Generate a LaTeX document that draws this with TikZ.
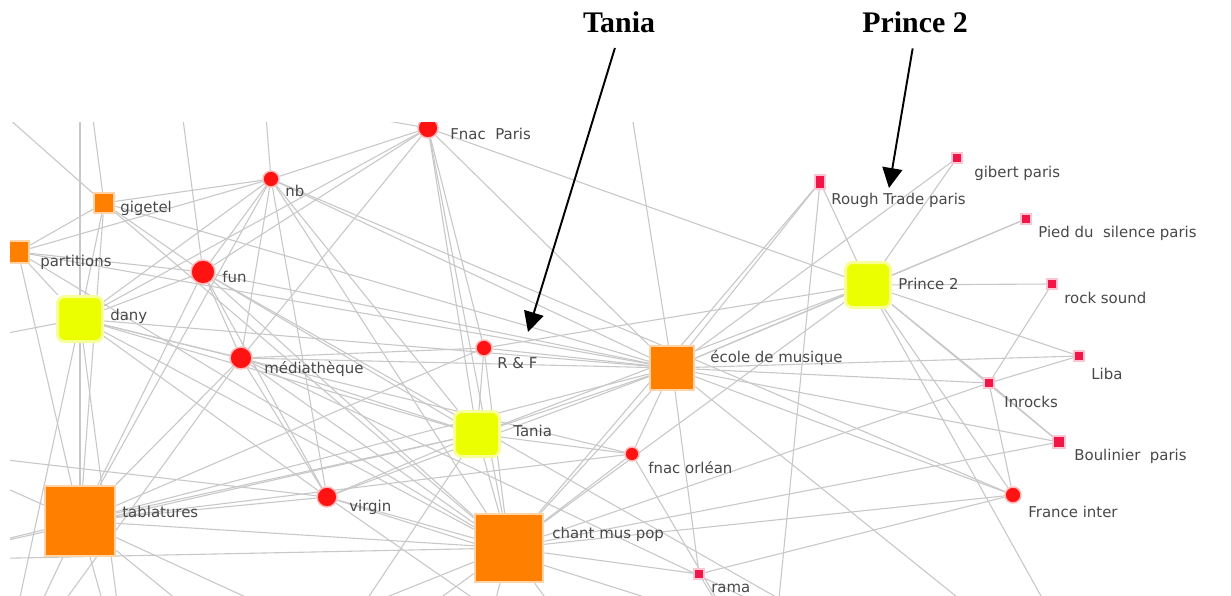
\documentclass[tikz,border=0pt]{standalone}
\usepackage{fontspec}
\setmainfont{Liberation Serif}
\newfontfamily\netfont{DejaVu Sans}
\usetikzlibrary{arrows.meta}
\usepackage{xcolor}
\definecolor{netorange}{RGB}{255,128,0}
\definecolor{netyellow}{RGB}{236,255,0}
\definecolor{netred}{RGB}{255,18,18}
\definecolor{netpink}{RGB}{240,22,72}
\definecolor{netgray}{RGB}{200,200,200}
\definecolor{nettext}{RGB}{72,72,72}
\pgfdeclarelayer{edges}
\pgfsetlayers{edges,main}

\begin{document}
\begin{tikzpicture}[x=0.2mm,y=-0.2mm]
  \tikzstyle{hubsq}=[rectangle, fill=netorange, draw=netorange!35, line width=0.5mm, inner sep=0pt];
  \tikzstyle{fansq}=[rectangle, rounded corners=1.4mm, fill=netyellow, draw=netyellow!40, line width=0.6mm, inner sep=0pt, minimum size=9mm];
  \tikzstyle{mediacirc}=[circle, fill=netred, draw=netred!30, line width=0.3mm, inner sep=0pt];
  \tikzstyle{shopsq}=[rectangle, fill=netpink, draw=netpink!25, line width=0.3mm, inner sep=0pt, minimum size=2mm];
  \tikzstyle{netlabel}=[anchor=west, inner sep=0pt, text=nettext, font=\netfont\fontsize{8.5}{9}\selectfont];
  \tikzstyle{netedge}=[draw=netgray, line width=0.22mm];
  \tikzstyle{notetext}=[inner sep=1pt, font=\fontsize{17}{19}\selectfont\bfseries];
  \tikzstyle{notearrow}=[line width=1.1pt, -{Triangle[length=4mm,width=4mm]}, shorten <=2.8mm];
  %
  \useasboundingbox (0,0) rectangle (1231,595);
  %
  % annotations
  \node[notetext] (tanianote) at (619,22) {Tania};
  \node[notetext] (princenote) at (915,22) {Prince 2};
  %
  \begin{scope}
    \clip (10,122) rectangle (1231,595);
    %
    % orange hubs
    \node[hubsq, minimum size=13.6mm] (chant) at (509,548) {};
    \node[hubsq, minimum size=14mm] (tabla) at (80,521) {};
    \node[hubsq, minimum size=8.8mm] (ecole) at (672,368) {};
    \node[hubsq, minimum size=4mm] (gigetel) at (104,203) {};
    \node[hubsq, minimum size=4.4mm] (partitions) at (18,252) {};
    %
    % yellow fans
    \node[fansq] (dany) at (80,319) {};
    \node[fansq] (tania) at (477,434) {};
    \node[fansq] (prince) at (868,285) {};
    %
    % red media
    \node[mediacirc, minimum size=4mm] (fnacparis) at (428,128) {};
    \node[mediacirc, minimum size=3.2mm] (nb) at (271,179) {};
    \node[mediacirc, minimum size=4.8mm] (fun) at (203,272) {};
    \node[mediacirc, minimum size=4.4mm] (media) at (241,358) {};
    \node[mediacirc, minimum size=3.2mm] (rf) at (484,348) {};
    \node[mediacirc, minimum size=2.8mm] (fnacorl) at (632,454) {};
    \node[mediacirc, minimum size=4mm] (virgin) at (327,497) {};
    \node[mediacirc, minimum size=3.2mm] (finter) at (1013,495) {};
    %
    % pink shops
    \node[shopsq] (rama) at (699,574) {};
    \node[shopsq, minimum height=2.8mm] (rough) at (820,182) {};
    \node[shopsq] (gibert) at (957,158) {};
    \node[shopsq] (pied) at (1026,219) {};
    \node[shopsq] (rock) at (1052,284) {};
    \node[shopsq] (liba) at (1079,356) {};
    \node[shopsq] (inrocks) at (989,383) {};
    \node[shopsq, minimum size=2.4mm] (boul) at (1059,442) {};
    %
    % labels
    \node[netlabel] (fnacparisl) at (450,134) {Fnac\ \ Paris};
    \node[netlabel] (nbl) at (285,191) {nb};
    \node[netlabel] (gigetell) at (120,208) {gigetel};
    \node[netlabel] (partitionsl) at (40,262) {partitions};
    \node[netlabel] (funl) at (222,277) {fun};
    \node[netlabel] (danyl) at (110,316) {dany};
    \node[netlabel] (medial) at (264,369) {médiathèque};
    \node[netlabel] (rfl) at (497,363) {R \& F};
    \node[netlabel] (ecolel) at (710,358) {école\ de\ musique};
    \node[netlabel] (tanial) at (513,431) {Tania};
    \node[netlabel] (fnacorll) at (648,468) {fnac\ orléan};
    \node[netlabel] (tablal) at (122,512) {tablatures};
    \node[netlabel] (virginl) at (349,507) {virgin};
    \node[netlabel] (chantl) at (552,534) {chant\ mus\ pop};
    \node[netlabel] (ramal) at (711,588) {rama};
    \node[netlabel] (roughl) at (831,200) {Rough\ Trade\ paris};
    \node[netlabel] (gibertl) at (974,173) {gibert\ paris};
    \node[netlabel] (piedl) at (1038,233) {Pied\ du\ \ silence\ paris};
    \node[netlabel] (princel) at (898,284) {Prince\ 2};
    \node[netlabel] (rockl) at (1064,298) {rock\ sound};
    \node[netlabel] (libal) at (1091,374) {Liba};
    \node[netlabel] (inrocksl) at (1004,402) {Inrocks};
    \node[netlabel] (boull) at (1074,456) {Boulinier\ \ paris};
    \node[netlabel] (finterl) at (1028,512) {France\ inter};
  \end{scope}
  %
  % nodes out of the window
  \coordinate (otl) at (-80,40);
  \coordinate (ot1) at (80,20);
  \coordinate (ot2) at (170,20);
  \coordinate (ot3) at (260,40);
  \coordinate (ot4) at (340,20);
  \coordinate (ot5) at (620,40);
  \coordinate (ol1) at (-80,350);
  \coordinate (ol2) at (-80,560);
  \coordinate (ol3) at (-80,450);
  \coordinate (ob1) at (0,690);
  \coordinate (ob2) at (130,700);
  \coordinate (ob3) at (300,700);
  \coordinate (ob4) at (470,700);
  \coordinate (ob5) at (620,700);
  \coordinate (ob6) at (770,690);
  \coordinate (ob7) at (940,690);
  \coordinate (ob8) at (1110,720);
  %
  % edges
  \begin{pgfonlayer}{edges}
    \clip (10,122) rectangle (1231,595);
    \foreach \a/\b in {fnacparis/nb, fnacparis/fun, fnacparis/tania, fnacparis/chant,
      fnacparis/ecole, fnacparis/prince, fnacparis/media, fnacparis/rf, fnacparis/otl,
      fnacparis/ot4, fnacparis/dany, nb/gigetel, nb/fun, nb/dany, nb/tabla, nb/media,
      nb/ecole, nb/chant, nb/tania, nb/ot3, nb/partitions, nb/virgin, nb/finter,
      gigetel/partitions, gigetel/dany, gigetel/fun, gigetel/tabla, gigetel/ecole,
      gigetel/ot1, gigetel/chant, gigetel/otl, partitions/dany, partitions/fun,
      partitions/tabla, partitions/chant, partitions/ol1, partitions/ecole}
      \draw[netedge] (\a) -- (\b);
    \foreach \a/\b in {fun/dany, fun/tabla, fun/media, fun/chant, fun/tania, fun/ecole,
      fun/virgin, fun/ot2, fun/ob7, dany/tabla, dany/media, dany/chant, dany/tania,
      dany/ecole, dany/virgin, dany/ot1, dany/ob2, dany/ol1, dany/fnacorl, dany/ob1,
      media/tabla, media/chant, media/tania, media/ecole, media/virgin, media/rf,
      media/ob7, media/ob1, rf/tania, rf/chant, rf/ecole, rf/tabla, rf/prince}
      \draw[netedge] (\a) -- (\b);
    \foreach \a/\b in {ecole/tania, ecole/chant, ecole/fnacorl, ecole/virgin, ecole/tabla,
      ecole/rough, ecole/gibert, ecole/pied, ecole/liba, ecole/inrocks, ecole/boul,
      ecole/finter, ecole/rama, ecole/prince, ecole/ot5, ecole/ob8, tania/chant,
      tania/prince, tania/fnacorl, tania/virgin, tania/tabla, tania/ob3, tania/ol2,
      fnacorl/chant, fnacorl/tabla, fnacorl/ob6, tabla/chant, tabla/virgin, tabla/ol2,
      tabla/ob1, tabla/ob2, tabla/ob3, tabla/ol3, tabla/ob4, virgin/chant, virgin/ob5,
      virgin/ob7, virgin/ol3}
      \draw[netedge] (\a) -- (\b);
    \foreach \a/\b in {chant/inrocks, chant/finter, chant/rama, chant/boul, chant/prince,
      chant/rough, chant/ob4, chant/ob5, chant/ob3, chant/ol2, chant/ob2, prince/rough,
      prince/gibert, prince/pied, prince/rock, prince/liba, prince/inrocks, prince/boul,
      prince/finter, prince/ob8, inrocks/liba, inrocks/rock, inrocks/boul,
      inrocks/finter, rama/finter, rama/ob6, rough/ob6}
      \draw[netedge] (\a) -- (\b);
  \end{pgfonlayer}
  %
  % arrows
  \coordinate (taniatip) at (528,332);
  \coordinate (princetip) at (889,188);
  \draw[notearrow] (tanianote.south) -- (taniatip);
  \draw[notearrow] (princenote.south) -- (princetip);
\end{tikzpicture}
\end{document}
